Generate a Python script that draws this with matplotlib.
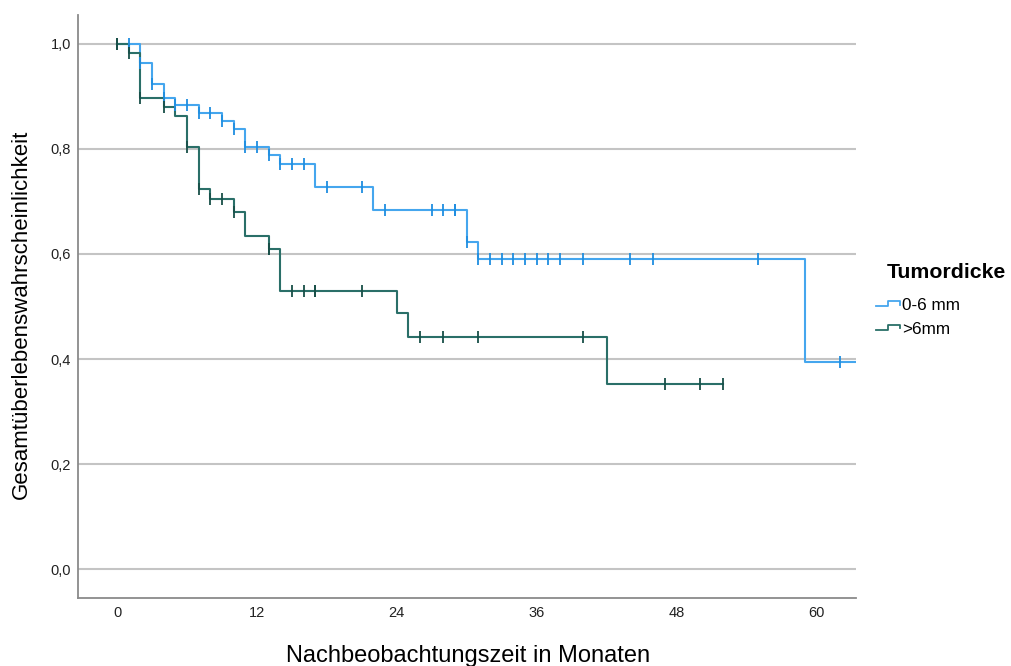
import numpy as np
import matplotlib
matplotlib.use("Agg")
import matplotlib.pyplot as plt
from matplotlib.lines import Line2D
from matplotlib.legend_handler import HandlerBase

plt.rcParams['font.family'] = ['Liberation Sans', 'DejaVu Sans']

# Kaplan-Meier Stufen (Zeit des Ereignisses, Überleben danach)
thin_times = [0, 2, 3, 4, 5, 7, 9, 10, 11, 13, 14, 17, 22, 30, 31, 59, 66]
thin_surv = [1.0, 0.963, 0.924, 0.897, 0.884, 0.869, 0.853, 0.837, 0.804,
             0.788, 0.771, 0.728, 0.683, 0.622, 0.591, 0.395, 0.395]
thin_cens = [1, 2, 3, 4, 5, 6, 7, 8, 9, 10, 11, 12, 13, 14, 15, 16, 18, 21,
             23, 27, 28, 29, 29, 30, 31, 32, 33, 34, 35, 36, 37, 38, 40, 44,
             46, 55, 62]

thick_times = [0, 1, 2, 4, 5, 6, 7, 8, 10, 11, 13, 14, 24, 25, 42, 52]
thick_surv = [1.0, 0.983, 0.897, 0.879, 0.862, 0.804, 0.724, 0.704, 0.680,
              0.634, 0.610, 0.530, 0.487, 0.442, 0.353, 0.353]
thick_cens = [0, 0, 1, 2, 4, 6, 7, 8, 9, 10, 13, 13, 15, 16, 17, 17, 21, 26,
              28, 31, 40, 47, 50, 52]

groups = ["0-6 mm", ">6mm"]
colors = ["#45a6ee", "#2a6f68"]
mark_colors = ["#1f8ee0", "#184f48"]

y_ticks = [0.0, 0.2, 0.4, 0.6, 0.8, 1.0]
x_ticks = [0, 12, 24, 36, 48, 60]


class StepHandler(HandlerBase):
    def create_artists(self, legend, orig_handle, xdescent, ydescent,
                       width, height, fontsize, trans):
        x0, x1 = -xdescent, -xdescent + width
        xm = x0 + 0.5 * width
        ylo, yhi = -ydescent + 0.3 * height, -ydescent + 0.75 * height
        line = Line2D([x0, xm, xm, x1, x1], [ylo, ylo, yhi, yhi, ylo + 0.15 * height],
                      color=orig_handle.get_color(), lw=1.3, transform=trans)
        return [line]


fig = plt.figure(figsize=(10.12, 6.66), dpi=100)
ax = fig.add_axes([78 / 1012, 0.1021, 778 / 1012, 0.8754])

handles = []
data = [(thin_times, thin_surv, thin_cens), (thick_times, thick_surv, thick_cens)]
for (t, s, c), col, mcol, lab in zip(data, colors, mark_colors, groups):
    t = np.array(t, dtype=float)
    s = np.array(s)
    h, = ax.step(t, s, where='post', color=col, lw=1.5, label=lab, zorder=3)
    handles.append(h)
    c = np.array(c, dtype=float)
    idx = np.searchsorted(t, c, side='right') - 1
    ax.plot(c, s[idx], ls='none', marker='|', ms=9, mew=1.3, color=mcol, zorder=4)

ax.set_xlim(-3.35, 63.4)
ax.set_ylim(-0.055, 1.055)
ax.set_yticks(y_ticks)
ax.set_yticklabels([f"{v:.1f}".replace('.', ',') for v in y_ticks])
ax.set_xticks(x_ticks)
ax.tick_params(length=0, labelsize=10.5, colors='#222222')
ax.tick_params(axis='y', pad=5)
ax.tick_params(axis='x', pad=6)
ax.yaxis.grid(True, color='#c4c4c4', lw=1.5, zorder=1)
ax.set_axisbelow(True)
for side in ['top', 'right']:
    ax.spines[side].set_visible(False)
for side in ['left', 'bottom']:
    ax.spines[side].set_color('#8a8a8a')
    ax.spines[side].set_linewidth(1.3)

# Achsentitel
fig.text(468 / 1012, 1 - 656 / 666, "Nachbeobachtungszeit in Monaten",
         fontsize=17, ha='center', va='center')
fig.text(21 / 1012, 1 - 314 / 666, "Gesamtüberlebenswahrscheinlichkeit",
         fontsize=16, rotation=90, ha='center', va='center')

# Legende
fig.text(887 / 1012, 1 - 273 / 666, "Tumordicke", fontsize=15.3,
         fontweight='bold', ha='left', va='center')
leg = fig.legend(handles=handles, labels=groups,
                 handler_map={Line2D: StepHandler()},
                 loc='upper left', bbox_to_anchor=(876 / 1012, 1 - 298 / 666),
                 frameon=False, fontsize=12.3, borderpad=0, borderaxespad=0,
                 handlelength=1.4, handletextpad=0.15, labelspacing=0.5)

fig.savefig("out.png", dpi=100)
